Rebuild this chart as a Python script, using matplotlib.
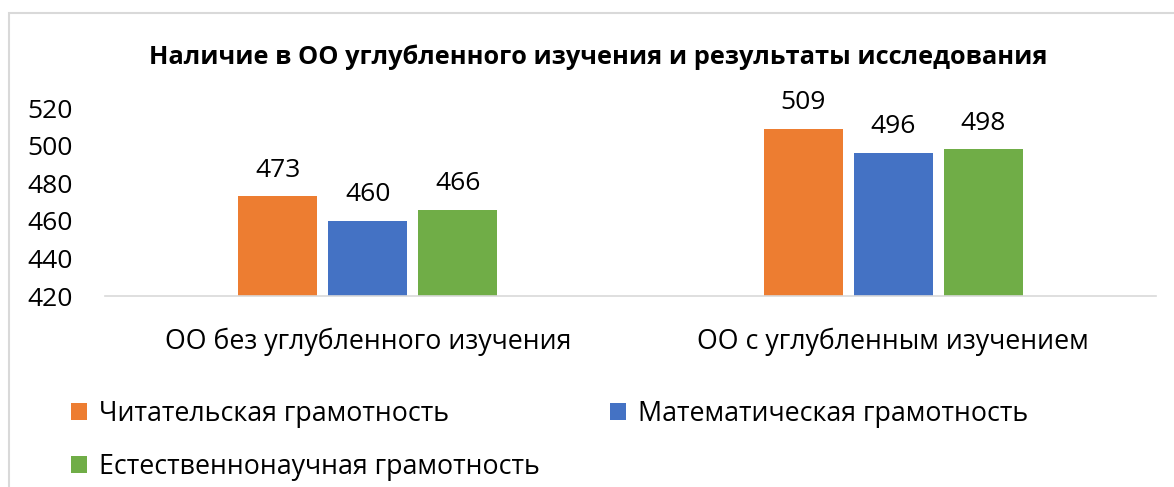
import numpy as np
import matplotlib.pyplot as plt
from matplotlib.patches import Rectangle

plt.rcParams['font.family'] = ['Open Sans', 'DejaVu Sans']

categories = ["ОО без углубленного изучения", "ОО с углубленным изучением"]
series = ["Читательская грамотность", "Математическая грамотность", "Естественнонаучная грамотность"]
reading = [473, 509]
math = [460, 496]
science = [466, 498]
colors = ["#ED7D31", "#4472C4", "#70AD47"]
yticks = [420, 440, 460, 480, 500, 520]

W, H = 1174, 487
fs = 19.3
fig = plt.figure(figsize=(W / 100, H / 100), dpi=100)
ax = fig.add_axes([105 / W, 1 - 296 / H, (1156 - 105) / W, (296 - 108) / H])

x = np.arange(len(categories))
width = 0.15
step = 0.171
handles = []
for i, (vals, name, col) in enumerate(zip([reading, math, science], series, colors)):
    bars = ax.bar(x + (i - 1) * step, vals, width, color=col, label=name, zorder=2)
    handles.append(bars)
    for b, v in zip(bars, vals):
        ax.text(b.get_x() + b.get_width() / 2, v + 14, str(v), ha='center', va='center',
                fontsize=19, color='#000000')

ax.set_xlim(-0.5, 1.5)
ax.set_ylim(420, 520)
ax.set_yticks(yticks)
ax.set_xticks(x)
ax.set_xticklabels(categories, fontsize=fs)
ax.tick_params(axis='y', length=0, labelsize=19, pad=56)
ax.tick_params(axis='x', length=0, pad=23)
for s in ['top', 'right', 'left']:
    ax.spines[s].set_visible(False)
ax.spines['bottom'].set_color('#d9d9d9')
ax.spines['bottom'].set_linewidth(1.2)
for lbl in ax.get_yticklabels():
    lbl.set_horizontalalignment('left')

fig.text(598 / W, 1 - 57 / H, "Наличие в ОО углубленного изучения и результаты исследования",
         ha='center', va='center', fontsize=18.3, fontweight='bold')

# column-major fill: reading + science in column 1, math in column 2
order = [0, 2, 1]
fig.legend([handles[k] for k in order], [series[k] for k in order], loc='upper left',
           bbox_to_anchor=(47 / W, 1 - 376 / H), ncol=2, frameon=False, fontsize=fs,
           handlelength=0.6, handleheight=0.6, handletextpad=0.45,
           columnspacing=2.6, labelspacing=0.94)

fig.patches.append(Rectangle((9 / W, -0.1), 1.2, 1 - 13 / H + 0.1, transform=fig.transFigure,
                             fill=False, edgecolor='#d9d9d9', lw=1.5))

fig.savefig("out.png", dpi=100)
